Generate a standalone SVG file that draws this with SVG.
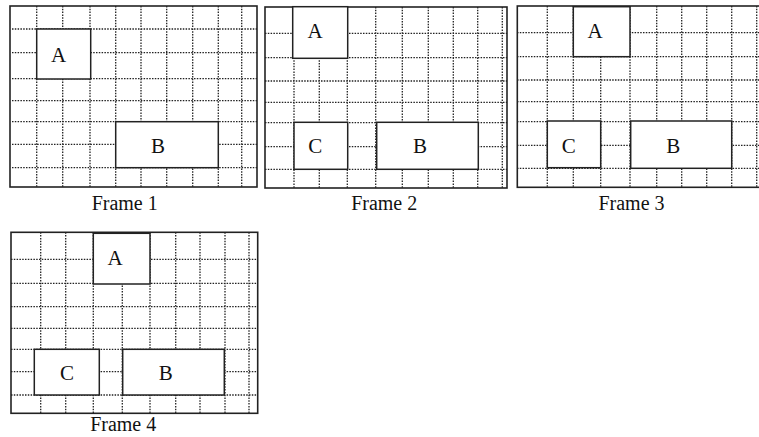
<svg xmlns="http://www.w3.org/2000/svg" width="759" height="437" viewBox="0 0 759 437">
<style>
.frame{fill:#fff;stroke:#222;stroke-width:1.6}
.grid{stroke:#222;stroke-width:1.3;stroke-dasharray:1.5 1.3;fill:none}
.box{fill:#fff;stroke:#222;stroke-width:1.5}
.lbl{font-family:"Liberation Serif","Times New Roman",serif;font-size:21px;fill:#111;text-anchor:middle}
.cap{font-family:"Liberation Serif","Times New Roman",serif;font-size:20px;fill:#111;text-anchor:middle}
</style>
<rect width="759" height="437" fill="#fff"/>

<g id="frame1">
<rect class="frame" x="10" y="6" width="247" height="181"/>
<path class="grid" d="M36.7 6V187M62.7 6V187M90 6V187M115.7 6V187M141 6V187M166.7 6V187M192.7 6V187M218.3 6V187M241.7 6V187M12 29H257M12 52.7H257M12 78.7H257M12 100.7H257M12 121.7H257M12 144.3H257M12 167.7H257"/>
<g id="f1-A"><rect class="box" x="36.7" y="29" width="54" height="50"/><text class="lbl" x="58.5" y="61.7">A</text></g>
<g id="f1-B"><rect class="box" x="115.7" y="121.7" width="102.6" height="46"/><text class="lbl" x="158" y="152.7">B</text></g>
<text class="cap" x="124.7" y="210">Frame 1</text>
</g>

<g id="frame2">
<rect class="frame" x="265" y="7" width="242" height="181"/>
<path class="grid" d="M294 7V188M319.3 7V188M347.3 7V188M375.7 7V188M402.3 7V188M428.3 7V188M453.3 7V188M477.7 7V188M502.3 7V188M265 33.3H507M265 57.7H507M265 81H507M265 102.3H507M265 122.7H507M265 146.7H507M265 169.3H507"/>
<g id="f2-A"><rect class="box" x="292.7" y="6.7" width="55" height="51.6"/><text class="lbl" x="315" y="38.3">A</text></g>
<g id="f2-C"><rect class="box" x="294" y="122.3" width="53.7" height="47"/><text class="lbl" x="315.3" y="153.3">C</text></g>
<g id="f2-B"><rect class="box" x="376.7" y="122.3" width="101.6" height="47"/><text class="lbl" x="420" y="153.3">B</text></g>
<text class="cap" x="384.2" y="209.5">Frame 2</text>
</g>

<g id="frame3">
<rect class="frame" x="517.3" y="6" width="243" height="181.3"/>
<path class="grid" d="M547.3 6V187M573.3 6V187M600.7 6V187M630 6V187M656.7 6V187M681.7 6V187M706.7 6V187M731.7 6V187M756.7 6V187M517 32.7H759M517 56.7H759M517 80H759M517 101.7H759M517 121.7H759M517 145.3H759M517 168.3H759"/>
<g id="f3-A"><rect class="box" x="573.3" y="6.7" width="56.7" height="50"/><text class="lbl" x="595" y="38.3">A</text></g>
<g id="f3-C"><rect class="box" x="547.3" y="121" width="53.4" height="46.7"/><text class="lbl" x="568.7" y="152.7">C</text></g>
<g id="f3-B"><rect class="box" x="630.7" y="121" width="101" height="47.3"/><text class="lbl" x="673.3" y="152.7">B</text></g>
<text class="cap" x="631.5" y="210">Frame 3</text>
</g>

<g id="frame4">
<rect class="frame" x="11" y="232.3" width="246.7" height="181"/>
<path class="grid" d="M40.7 232.3V413M65.7 232.3V413M93.3 232.3V413M122.3 232.3V413M150 232.3V413M175.7 232.3V413M200 232.3V413M225 232.3V413M249 232.3V413M11 259.3H257.7M11 283.3H257.7M11 306.7H257.7M11 328.3H257.7M11 349.3H257.7M11 371.7H257.7M11 395H257.7"/>
<g id="f4-A"><rect class="box" x="93.3" y="233.3" width="56.7" height="50.7"/><text class="lbl" x="115" y="265">A</text></g>
<g id="f4-C"><rect class="box" x="34.3" y="349.3" width="65" height="45.7"/><text class="lbl" x="67" y="380">C</text></g>
<g id="f4-B"><rect class="box" x="122.7" y="349.3" width="101.6" height="45.7"/><text class="lbl" x="165.8" y="380">B</text></g>
<text class="cap" x="123.2" y="431">Frame 4</text>
</g>
</svg>
